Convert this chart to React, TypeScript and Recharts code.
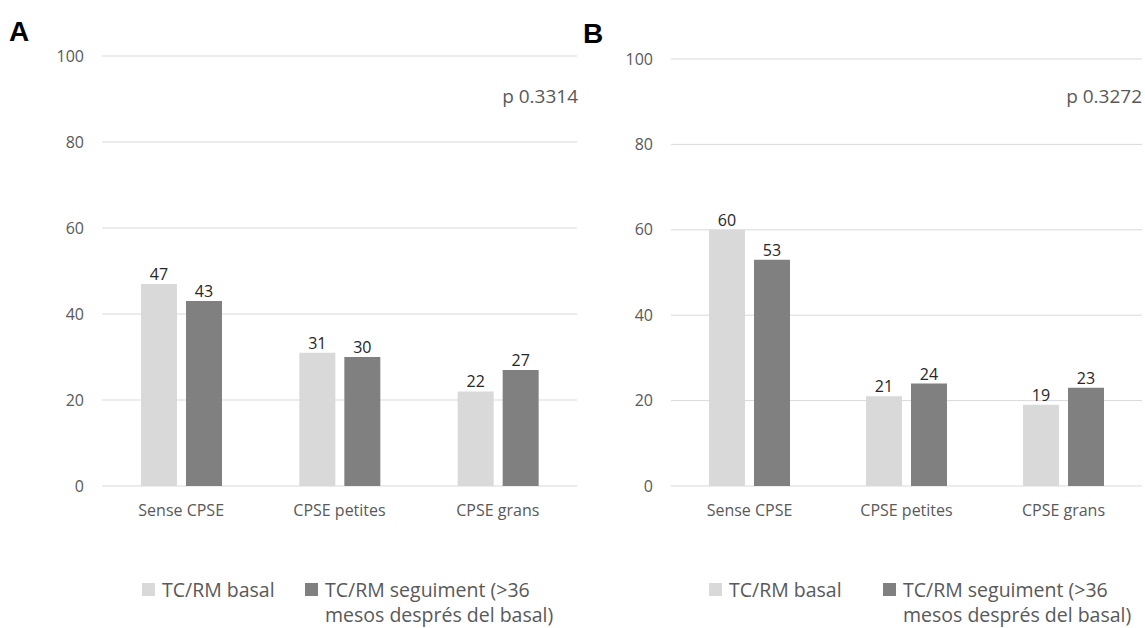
import React from 'react';
import {
  BarChart,
  Bar,
  XAxis,
  YAxis,
  CartesianGrid,
  Legend,
  LabelList,
} from 'recharts';

const categories = ['Sense CPSE', 'CPSE petites', 'CPSE grans'];
const seriesNames = ['TC/RM basal', 'TC/RM seguiment (>36 mesos després del basal)'];
const basalA = [47, 31, 22];
const seguimentA = [43, 30, 27];
const basalB = [60, 21, 19];
const seguimentB = [53, 24, 23];
const yTicks = [0, 20, 40, 60, 80, 100];
const pValues = ['p 0.3314', 'p 0.3272'];

const FONT = '"Open Sans", "Liberation Sans", sans-serif';
const LIGHT = '#d9d9d9';
const DARK = '#808080';
const TEXT = '#595959';

const buildRows = (a: number[], b: number[]) =>
  categories.map((name, i) => ({ name, basal: a[i], seguiment: b[i] }));

const LegendContent = ({ payload, firstWidth }: any) => (
  <div style={{ display: 'flex', alignItems: 'flex-start', fontFamily: FONT, fontSize: 19.5, color: TEXT, lineHeight: '25px' }}>
    {(payload || []).map((p: any, i: number) => (
      <div key={i} style={{ display: 'flex', alignItems: 'flex-start', width: i === 0 ? firstWidth : 'auto', flexShrink: 0 }}>
        <div style={{ width: 13, height: 13, background: p.color, marginTop: 6, marginRight: 7, flexShrink: 0 }} />
        <div style={{ width: i === 0 ? 'auto' : 255, whiteSpace: i === 0 ? 'nowrap' : 'normal' }}>{p.value}</div>
      </div>
    ))}
  </div>
);

interface PanelProps {
  basal: number[];
  seguiment: number[];
  width: number;
  yAxisWidth: number;
  top: number;
  legendLeft: number;
  legendFirstWidth: number;
}

const Panel: React.FC<PanelProps> = ({ basal, seguiment, width, yAxisWidth, top, legendLeft, legendFirstWidth }) => (
  <BarChart
    width={width}
    height={628}
    data={buildRows(basal, seguiment)}
    margin={{ top, right: 3, left: 0, bottom: 102 }}
    barSize={36}
    barGap={9}
  >
    <CartesianGrid vertical={false} stroke={LIGHT} />
    <XAxis
      dataKey="name"
      height={40}
      axisLine={false}
      tickLine={false}
      tickSize={0}
      tickMargin={19}
      tick={{ fill: TEXT, fontSize: 16, fontFamily: FONT }}
    />
    <YAxis
      width={yAxisWidth}
      domain={[0, 100]}
      ticks={yTicks}
      axisLine={false}
      tickLine={false}
      tickSize={0}
      tickMargin={18}
      tick={{ fill: TEXT, fontSize: 16, fontFamily: FONT }}
    />
    <Legend
      layout="horizontal"
      verticalAlign="middle"
      align="center"
      wrapperStyle={{ top: 577, left: legendLeft, width: 440, height: 50 }}
      content={(props: any) => <LegendContent {...props} firstWidth={legendFirstWidth} />}
    />
    <Bar dataKey="basal" name={seriesNames[0]} fill={LIGHT} isAnimationActive={false}>
      <LabelList dataKey="basal" position="top" offset={4} fill="#262626" fontSize={16} fontFamily={FONT} />
    </Bar>
    <Bar dataKey="seguiment" name={seriesNames[1]} fill={DARK} isAnimationActive={false}>
      <LabelList dataKey="seguiment" position="top" offset={4} fill="#262626" fontSize={16} fontFamily={FONT} />
    </Bar>
  </BarChart>
);

const letterStyle: React.CSSProperties = {
  position: 'absolute',
  fontFamily: '"Liberation Sans", Arial, sans-serif',
  fontWeight: 'bold',
  fontSize: 28,
  color: '#000',
  lineHeight: '30px',
};

const pStyle: React.CSSProperties = {
  position: 'absolute',
  fontFamily: FONT,
  fontSize: 19,
  color: TEXT,
  lineHeight: '24px',
  textAlign: 'right',
};

export default function App() {
  return (
    <div style={{ position: 'absolute', left: 0, top: 0, width: 1145, height: 628, background: '#fff', overflow: 'hidden' }}>
      <div style={{ position: 'absolute', left: 0, top: 0 }}>
        <Panel basal={basalA} seguiment={seguimentA} width={580} yAxisWidth={102} top={56} legendLeft={142} legendFirstWidth={163} />
      </div>
      <div style={{ position: 'absolute', left: 580, top: 0 }}>
        <Panel basal={basalB} seguiment={seguimentB} width={565} yAxisWidth={91} top={59} legendLeft={129} legendFirstWidth={174} />
      </div>
      <div style={{ ...letterStyle, left: 9, top: 17 }}>A</div>
      <div style={{ ...letterStyle, left: 583, top: 19 }}>B</div>
      <div style={{ ...pStyle, right: 1145 - 578, top: 84 }}>{pValues[0]}</div>
      <div style={{ ...pStyle, right: 1145 - 1142, top: 84 }}>{pValues[1]}</div>
    </div>
  );
}
